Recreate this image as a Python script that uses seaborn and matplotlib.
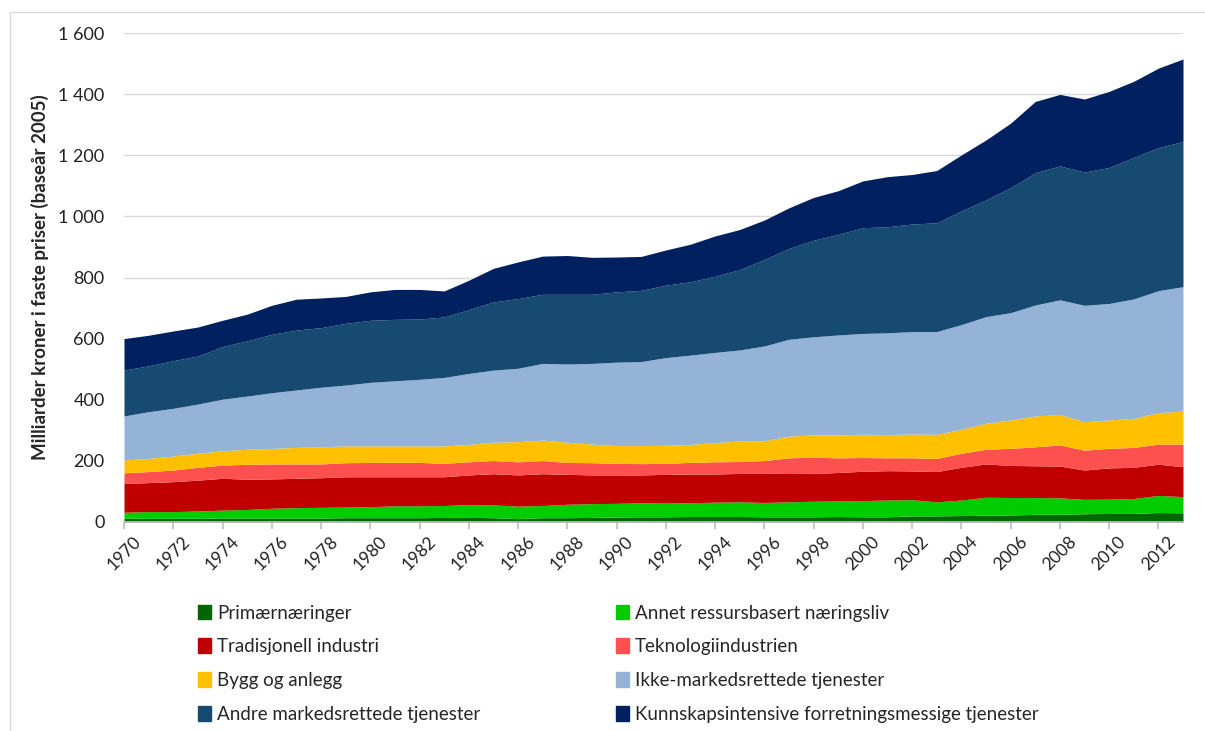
import numpy as np
import pandas as pd
import matplotlib
matplotlib.use("Agg")
import matplotlib.pyplot as plt
import matplotlib.patches as mpatches
import seaborn as sns

# Verdiskaping per næringsgruppe, milliarder kroner (faste 2005-priser)
years = list(range(1970, 2014))

primaer = [12, 12, 12, 12, 13, 13, 13, 13, 13, 14,
           14, 14, 14, 15, 15, 14, 11, 14, 14, 15,
           16, 17, 17, 18, 18, 18, 17, 17, 17, 18,
           17, 17, 20, 20, 21, 22, 23, 25, 25, 27,
           28, 28, 31, 30]
annet = [20, 22, 22, 24, 26, 28, 32, 34, 35, 35,
         36, 39, 39, 39, 42, 42, 41, 40, 44, 45,
         45, 46, 45, 45, 47, 48, 47, 49, 51, 51,
         53, 55, 53, 46, 51, 59, 57, 55, 54, 47,
         47, 49, 56, 53]
tradisjonell = [94, 95, 98, 101, 104, 99, 96, 96, 97, 99,
                98, 95, 95, 94, 97, 102, 102, 104, 98, 94,
                93, 91, 94, 94, 92, 93, 95, 95, 91, 93,
                96, 96, 94, 99, 107, 109, 105, 104, 104, 96,
                102, 102, 102, 98]
teknologi = [35, 36, 38, 42, 43, 49, 49, 47, 45, 46,
             47, 47, 47, 44, 43, 43, 43, 43, 39, 40,
             38, 37, 36, 38, 40, 39, 42, 49, 53, 48,
             45, 42, 43, 43, 46, 48, 56, 62, 69, 65,
             64, 65, 66, 74]
bygg = [42, 43, 46, 46, 47, 49, 51, 54, 56, 55,
        54, 54, 54, 57, 57, 60, 66, 67, 66, 61,
        58, 59, 59, 59, 63, 67, 65, 71, 73, 75,
        76, 76, 78, 79, 78, 85, 93, 101, 100, 93,
        93, 95, 103, 108]
ikke_marked = [144, 153, 156, 161, 169, 174, 182, 188, 195, 199,
               208, 213, 218, 224, 232, 236, 240, 251, 256, 264,
               273, 275, 287, 292, 295, 298, 310, 317, 321, 327,
               330, 333, 335, 336, 343, 349, 351, 363, 375, 381,
               381, 391, 399, 407]
andre_marked = [150, 150, 156, 157, 172, 181, 191, 196, 195, 202,
                203, 201, 197, 198, 209, 223, 228, 226, 228, 226,
                230, 233, 237, 240, 249, 263, 283, 297, 316, 329,
                346, 347, 352, 356, 372, 382, 409, 433, 438, 436,
                445, 463, 468, 475]
kunnskap = [103, 100, 97, 95, 86, 87, 95, 101, 97, 88,
            93, 98, 97, 85, 96, 110, 120, 125, 127, 121,
            114, 111, 115, 123, 132, 131, 129, 133, 140, 143,
            153, 164, 162, 171, 183, 196, 211, 233, 234, 239,
            249, 249, 260, 270]

labels = ["Primærnæringer", "Annet ressursbasert næringsliv",
          "Tradisjonell industri", "Teknologiindustrien",
          "Bygg og anlegg", "Ikke-markedsrettede tjenester",
          "Andre markedsrettede tjenester",
          "Kunnskapsintensive forretningsmessige tjenester"]
colors = ["#006600", "#00CC00", "#C00000", "#FF5050",
          "#FFC000", "#95B3D7", "#164A70", "#002060"]

df = pd.DataFrame({
    "year": years,
    labels[0]: primaer, labels[1]: annet, labels[2]: tradisjonell,
    labels[3]: teknologi, labels[4]: bygg, labels[5]: ikke_marked,
    labels[6]: andre_marked, labels[7]: kunnskap,
})

sns.set_theme(style="white")
plt.rcParams["font.family"] = ["Lato", "DejaVu Sans"]
palette = sns.color_palette(colors)

fig = plt.figure(figsize=(12.05, 7.31), dpi=100)
ax = fig.add_axes([124 / 1205, 1 - 522 / 731, (1183 - 124) / 1205, (522 - 33) / 731])

ax.stackplot(df["year"], [df[c] for c in labels], colors=palette,
             linewidth=0, zorder=2)

ax.set_xlim(1970, 2013)
ax.set_ylim(0, 1600)
ax.set_yticks(range(0, 1601, 200))
ax.set_yticklabels([f"{v:,}".replace(",", " ") for v in range(0, 1601, 200)],
                   fontsize=13, color="#222222")
ax.yaxis.grid(True, color="#D9D9D9", linewidth=1, zorder=0)
ax.set_axisbelow(True)

ax.set_xticks(range(1970, 2013, 2))
ax.set_xticklabels([str(y) for y in range(1970, 2013, 2)], rotation=45,
                   fontsize=12.5, color="#222222")
ax.tick_params(axis="x", which="both", bottom=True, length=5, color="#BFBFBF",
               pad=3)
ax.tick_params(axis="y", length=0, pad=14)

for s in ["top", "right", "left"]:
    ax.spines[s].set_visible(False)
ax.spines["bottom"].set_color("#BFBFBF")
ax.spines["bottom"].set_zorder(3)

ax.set_ylabel("Milliarder kroner i faste priser (baseår 2005)",
              fontsize=13.5, fontweight="bold", labelpad=10)
ax.yaxis.set_label_coords(-75 / 1059, 0.5)

# chart border (Excel-style frame)
fig.patches.append(mpatches.Rectangle((10 / 1205, -0.05), 1.2, 1 - 12 / 731 + 0.05,
                                      transform=fig.transFigure, fill=False,
                                      edgecolor="#D9D9D9", linewidth=1))

handles = [mpatches.Patch(color=c) for c in colors]
left_idx = [0, 2, 4, 6]
right_idx = [1, 3, 5, 7]
leg_kw = dict(loc="upper left", frameon=False, fontsize=13.5,
              handlelength=0.7, handleheight=0.85, handletextpad=0.35,
              labelspacing=0.9, borderaxespad=0)
leg1 = fig.legend([handles[i] for i in left_idx], [labels[i] for i in left_idx],
                  bbox_to_anchor=(190 / 1205, 1 - 597 / 731), **leg_kw)
leg2 = fig.legend([handles[i] for i in right_idx], [labels[i] for i in right_idx],
                  bbox_to_anchor=(608 / 1205, 1 - 597 / 731), **leg_kw)

fig.savefig("out.png", dpi=100)
